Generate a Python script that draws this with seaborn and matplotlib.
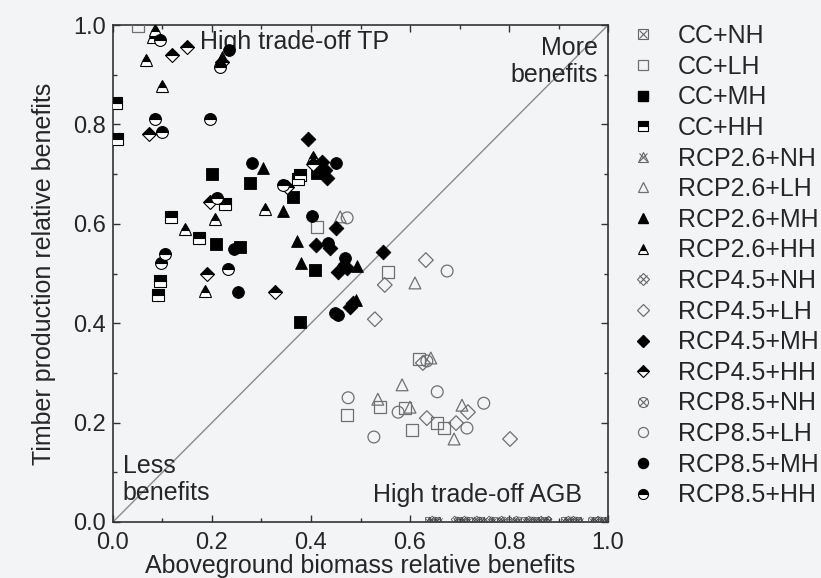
import numpy as np
import matplotlib
matplotlib.use("Agg")
import matplotlib.pyplot as plt
from matplotlib.lines import Line2D
from matplotlib.legend_handler import HandlerTuple
import seaborn as sns

# ---- data (x = aboveground biomass, y = timber production) ----
cc_lh_x = [0.05, 0.412, 0.556, 0.618, 0.539, 0.59, 0.655, 0.669, 0.604, 0.473]
cc_lh_y = [0.998, 0.594, 0.503, 0.328, 0.231, 0.229, 0.199, 0.189, 0.185, 0.215]
cc_mh_x = [0.2, 0.277, 0.364, 0.208, 0.256, 0.378, 0.412, 0.408]
cc_mh_y = [0.70, 0.682, 0.654, 0.56, 0.553, 0.402, 0.702, 0.507]
cc_hh_x = [0.006, 0.008, 0.378, 0.374, 0.226, 0.117, 0.174, 0.095, 0.091]
cc_hh_y = [0.843, 0.77, 0.698, 0.69, 0.64, 0.614, 0.571, 0.485, 0.457]

r26_lh_x = [0.459, 0.61, 0.642, 0.584, 0.535, 0.60, 0.705, 0.689]
r26_lh_y = [0.614, 0.481, 0.33, 0.276, 0.247, 0.231, 0.235, 0.167]
r26_mh_x = [0.303, 0.343, 0.372, 0.38, 0.493, 0.491, 0.22]
r26_mh_y = [0.712, 0.626, 0.565, 0.521, 0.515, 0.447, 0.935]
r26_hh_x = [0.085, 0.08, 0.067, 0.10, 0.206, 0.307, 0.145, 0.186, 0.404]
r26_hh_y = [0.99, 0.975, 0.93, 0.877, 0.61, 0.63, 0.59, 0.465, 0.734]

r45_lh_x = [0.549, 0.529, 0.632, 0.626, 0.717, 0.634, 0.693, 0.802]
r45_lh_y = [0.477, 0.408, 0.527, 0.32, 0.221, 0.209, 0.199, 0.167]
r45_mh_x = [0.394, 0.422, 0.428, 0.432, 0.45, 0.41, 0.438, 0.455, 0.473, 0.545, 0.479, 0.485]
r45_mh_y = [0.771, 0.724, 0.708, 0.692, 0.592, 0.557, 0.551, 0.503, 0.511, 0.543, 0.433, 0.44]
r45_hh_x = [0.12, 0.15, 0.073, 0.196, 0.19, 0.327, 0.404, 0.351, 0.22]
r45_hh_y = [0.94, 0.955, 0.78, 0.644, 0.50, 0.463, 0.72, 0.674, 0.925]

r85_lh_x = [0.473, 0.675, 0.634, 0.655, 0.576, 0.749, 0.715, 0.527, 0.475]
r85_lh_y = [0.612, 0.505, 0.324, 0.262, 0.221, 0.239, 0.189, 0.171, 0.25]
r85_mh_x = [0.281, 0.244, 0.253, 0.45, 0.402, 0.434, 0.469, 0.465, 0.448, 0.455, 0.235]
r85_mh_y = [0.722, 0.549, 0.463, 0.722, 0.616, 0.561, 0.531, 0.513, 0.42, 0.416, 0.95]
r85_hh_x = [0.095, 0.085, 0.196, 0.10, 0.216, 0.343, 0.21, 0.105, 0.097, 0.232]
r85_hh_y = [0.97, 0.81, 0.81, 0.785, 0.915, 0.678, 0.652, 0.54, 0.521, 0.509]

# no harvest -> no timber, all sit on the x axis
cc_nh_x = [0.635, 0.655, 0.70, 0.72, 0.745, 0.77, 0.80, 0.83, 0.855, 0.87, 0.91, 0.94, 0.975, 0.99]
r26_nh_x = [0.64, 0.66, 0.705, 0.73, 0.75, 0.78, 0.81, 0.835, 0.86, 0.875, 0.915, 0.945, 0.97, 0.995]
r45_nh_x = [0.645, 0.69, 0.71, 0.735, 0.76, 0.785, 0.815, 0.84, 0.865, 0.88, 0.92, 0.93, 0.98, 1.0]
r85_nh_x = [0.65, 0.695, 0.715, 0.74, 0.765, 0.79, 0.82, 0.845, 0.85, 0.88, 0.925, 0.935, 0.985, 0.965]

scenarios = ["CC", "RCP2.6", "RCP4.5", "RCP8.5"]
shapes = {"CC": "s", "RCP2.6": "^", "RCP4.5": "D", "RCP8.5": "o"}

series = {
    "CC": {"NH": cc_nh_x, "LH": (cc_lh_x, cc_lh_y), "MH": (cc_mh_x, cc_mh_y), "HH": (cc_hh_x, cc_hh_y)},
    "RCP2.6": {"NH": r26_nh_x, "LH": (r26_lh_x, r26_lh_y), "MH": (r26_mh_x, r26_mh_y), "HH": (r26_hh_x, r26_hh_y)},
    "RCP4.5": {"NH": r45_nh_x, "LH": (r45_lh_x, r45_lh_y), "MH": (r45_mh_x, r45_mh_y), "HH": (r45_hh_x, r45_hh_y)},
    "RCP8.5": {"NH": r85_nh_x, "LH": (r85_lh_x, r85_lh_y), "MH": (r85_mh_x, r85_mh_y), "HH": (r85_hh_x, r85_hh_y)},
}

sns.set_style("ticks")
plt.rcParams["font.family"] = ["Liberation Sans", "DejaVu Sans"]

bg = "#f2f4f6"
grey = "#707070"
fs = 18
fig = plt.figure(figsize=(8.21, 5.78), dpi=100, facecolor=bg)
ax = fig.add_axes([0.1376, 0.0969, 0.6030, 0.8598], facecolor=bg)

# diagonal
ax.plot([0, 1], [0, 1], color="#8a8a8a", lw=1.0, zorder=1)

msize = 8.5
dsize = 7.5
handles, labels = [], []
for sc in scenarios:
    m = shapes[sc]
    ms = dsize if m == "D" else msize
    d = series[sc]

    # NH: tiny crossed markers on the x axis
    nx = d["NH"]
    sns.scatterplot(x=nx, y=[0.005] * len(nx), marker=m, s=12, facecolor="none",
                    edgecolor="#444444", linewidth=0.5, ax=ax, zorder=3)
    sns.scatterplot(x=nx, y=[0.005] * len(nx), marker="x", s=9, color="#444444",
                    linewidth=0.5, ax=ax, zorder=3)
    h_nh = (Line2D([], [], marker=m, ls="", ms=ms * 0.85, mfc="none", mec="#666666", mew=0.8),
            Line2D([], [], marker="x", ls="", ms=ms * 0.7, mec="#666666", mew=0.8))

    # LH: open grey
    lx, ly = d["LH"]
    sns.scatterplot(x=lx, y=ly, marker=m, s=ms ** 2, facecolor="none",
                    edgecolor=grey, linewidth=0.9, ax=ax, zorder=3)
    h_lh = Line2D([], [], marker=m, ls="", ms=ms * 0.85, mfc="none", mec=grey, mew=0.9)

    # MH: filled black
    mx, my = d["MH"]
    sns.scatterplot(x=mx, y=my, marker=m, s=ms ** 2, color="black",
                    edgecolor="black", linewidth=0.6, ax=ax, zorder=4)
    h_mh = Line2D([], [], marker=m, ls="", ms=ms * 0.85, mfc="black", mec="black")

    # HH: top half black
    hx, hy = d["HH"]
    ax.plot(hx, hy, marker=m, ls="", ms=ms, fillstyle="top", mfc="black",
            mfcalt="white", mec="black", mew=0.8, zorder=4)
    h_hh = Line2D([], [], marker=m, ls="", ms=ms * 0.85, fillstyle="top", mfc="black",
                  mfcalt="white", mec="black", mew=0.8)

    for lvl, h in zip(["NH", "LH", "MH", "HH"], [h_nh, h_lh, h_mh, h_hh]):
        handles.append(h)
        labels.append(f"{sc}+{lvl}")

ax.set_xlim(0, 1)
ax.set_ylim(0, 1)
ax.set_xticks(np.arange(0, 1.01, 0.2))
ax.set_yticks(np.arange(0, 1.01, 0.2))
ax.set_xticks(np.arange(0.1, 1.0, 0.2), minor=True)
ax.set_yticks(np.arange(0.1, 1.0, 0.2), minor=True)
ax.set_xticklabels(["0.0", "0.2", "0.4", "0.6", "0.8", "1.0"])
ax.set_yticklabels(["0.0", "0.2", "0.4", "0.6", "0.8", "1.0"])
ax.tick_params(which="both", direction="in", top=True, right=True, labelsize=17,
               color="#333333", width=1.0)
ax.tick_params(axis="x", which="major", pad=7)
ax.tick_params(axis="y", which="major", pad=5)
ax.tick_params(which="major", length=5)
ax.tick_params(which="minor", length=3)
for s in ax.spines.values():
    s.set_color("#333333")
    s.set_linewidth(1.2)

ax.set_xlabel("Aboveground biomass relative benefits", fontsize=fs, labelpad=0)
ax.set_ylabel("Timber production relative benefits", fontsize=fs, labelpad=12)

ax.text(0.176, 0.966, "High trade-off TP", fontsize=fs, ha="left", va="center")
ax.text(0.98, 0.978, "More\nbenefits", fontsize=fs, ha="right", va="top", linespacing=1.15)
ax.text(0.02, 0.034, "Less\nbenefits", fontsize=fs, ha="left", va="bottom", linespacing=1.15)
ax.text(0.947, 0.030, "High trade-off AGB", fontsize=fs, ha="right", va="bottom")

fig.legend(handles, labels, loc="upper left", bbox_to_anchor=(630 / 821, 1 - 24 / 578),
           frameon=False, fontsize=fs, labelspacing=0.265, handlelength=1.0,
           handletextpad=0.9, borderpad=0, borderaxespad=0,
           handler_map={tuple: HandlerTuple(ndivide=1)})

fig.savefig("out.png", dpi=100, facecolor=bg)
